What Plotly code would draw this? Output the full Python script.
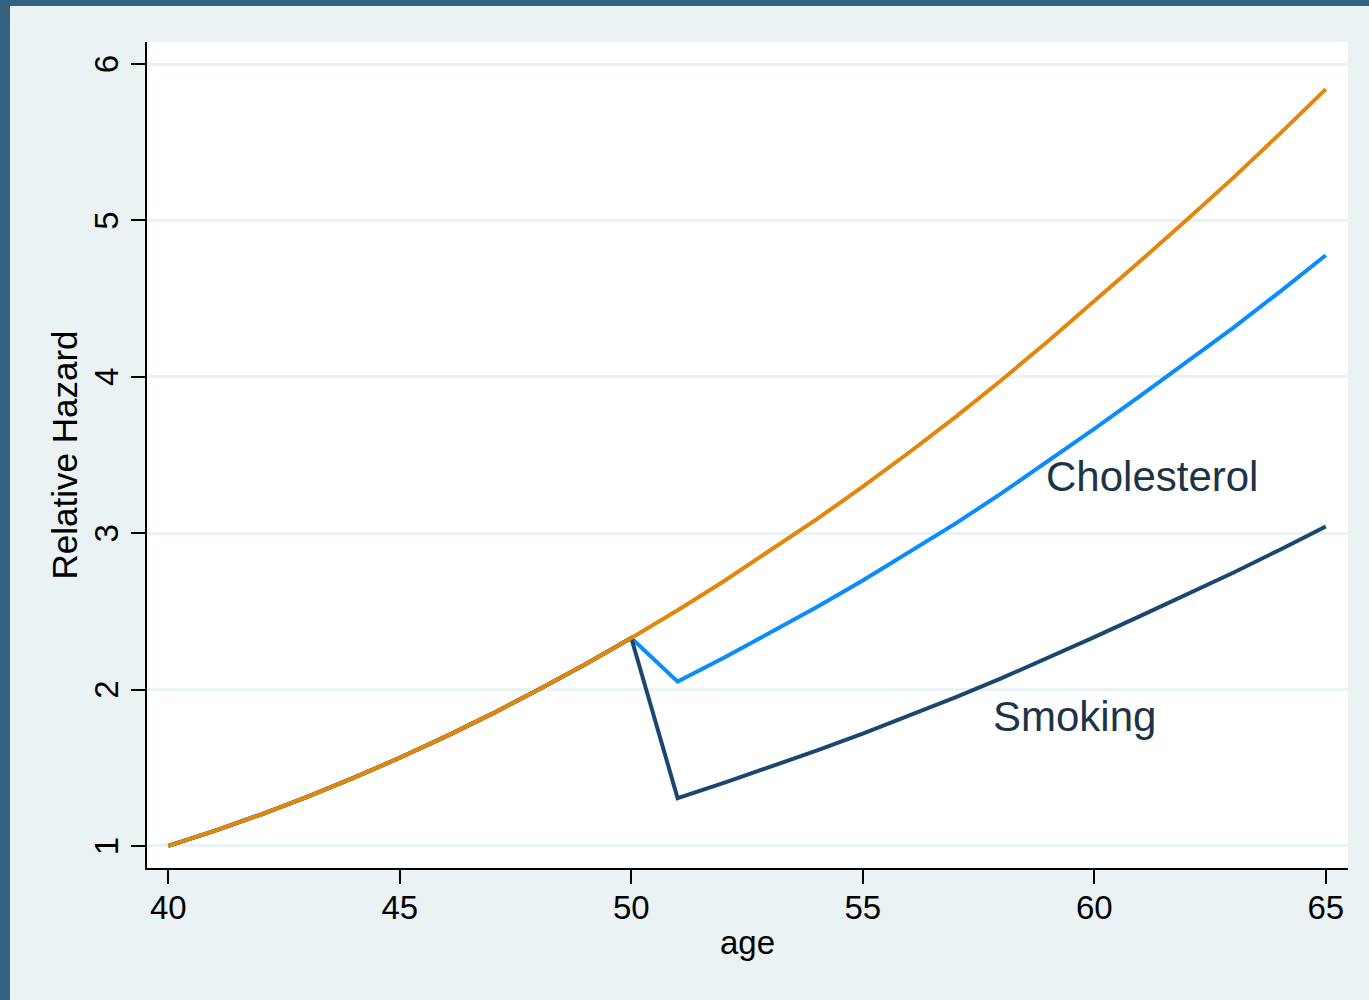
import plotly.graph_objects as go

ages = [40, 41, 42, 43, 44, 45, 46, 47, 48, 49, 50, 51, 52, 53, 54, 55, 56, 57, 58, 59, 60, 61, 62, 63, 64, 65]
baseline = [1.000, 1.097, 1.201, 1.314, 1.435, 1.564, 1.701, 1.846, 2.000, 2.161, 2.330,
            2.507, 2.693, 2.887, 3.088, 3.298, 3.516, 3.742, 3.980, 4.228, 4.482,
            4.742, 5.005, 5.272, 5.552, 5.840]
cholesterol = [1.000, 1.097, 1.201, 1.314, 1.435, 1.564, 1.701, 1.846, 2.000, 2.161, 2.330,
               2.051, 2.203, 2.362, 2.526, 2.698, 2.876, 3.061, 3.256, 3.459, 3.667,
               3.879, 4.094, 4.313, 4.542, 4.777]
smoking = [1.000, 1.097, 1.201, 1.314, 1.435, 1.564, 1.701, 1.846, 2.000, 2.161, 2.330,
           1.306, 1.403, 1.504, 1.609, 1.718, 1.832, 1.950, 2.073, 2.203, 2.335,
           2.471, 2.608, 2.747, 2.893, 3.043]

x_ticks = [40, 45, 50, 55, 60, 65]
y_ticks = [1, 2, 3, 4, 5, 6]

label_text = ["Cholesterol", "Smoking"]
label_x = [58.92, 57.76]
label_y = [3.36, 1.83]

FONT = "Liberation Sans, Arial, Helvetica, sans-serif"
BG = "#eaf2f3"

fig = go.Figure()
fig.add_trace(go.Scatter(x=ages, y=cholesterol, mode="lines",
                         line=dict(color="#0a8cff", width=4), showlegend=False))
fig.add_trace(go.Scatter(x=ages, y=smoking, mode="lines",
                         line=dict(color="#1a476f", width=4), showlegend=False))
fig.add_trace(go.Scatter(x=ages, y=baseline, mode="lines",
                         line=dict(color="#e3860a", width=4), showlegend=False))

for t, xv, yv in zip(label_text, label_x, label_y):
    fig.add_annotation(x=xv, y=yv, text=t, showarrow=False, xanchor="left", yanchor="middle",
                       font=dict(family=FONT, size=42, color="#1c3448"))

# dark frame strips at left and top of the image
fig.add_shape(type="rect", xref="paper", yref="paper", x0=-0.2, x1=(10 - 147) / 1201,
              y0=-0.3, y1=1.1, fillcolor="#33617f", line=dict(width=0), layer="below")
fig.add_shape(type="rect", xref="paper", yref="paper", x0=-0.2, x1=1.1,
              y0=1 + (42 - 6) / 826, y1=1.1, fillcolor="#33617f", line=dict(width=0), layer="below")

fig.update_layout(
    width=1369, height=1000,
    margin=dict(l=147, r=21, t=42, b=132),
    paper_bgcolor=BG, plot_bgcolor="white",
    font=dict(family=FONT, color="black"),
    xaxis=dict(range=[39.54, 65.48], tickvals=x_ticks, ticks="outside", ticklen=14,
               tickwidth=1.5, tickcolor="black", showline=True, linecolor="black",
               linewidth=1.5, showgrid=False, zeroline=False, ticklabelstandoff=-4,
               tickfont=dict(size=33, family=FONT, color="black"),
               title=dict(text="age", font=dict(size=33, family=FONT, color="black"), standoff=6)),
    yaxis=dict(range=[0.859, 6.141], tickvals=y_ticks, ticks="outside", ticklen=14,
               tickwidth=1.5, tickcolor="black", showline=True, linecolor="black",
               linewidth=1.5, showgrid=True, gridcolor=BG, gridwidth=3, zeroline=False,
               tickangle=-90, ticklabelshift=5,
               tickfont=dict(size=33, family=FONT, color="black"),
               title=dict(text="Relative Hazard", font=dict(size=35, family=FONT, color="black"), standoff=0)),
)

fig.write_html("out.html")
